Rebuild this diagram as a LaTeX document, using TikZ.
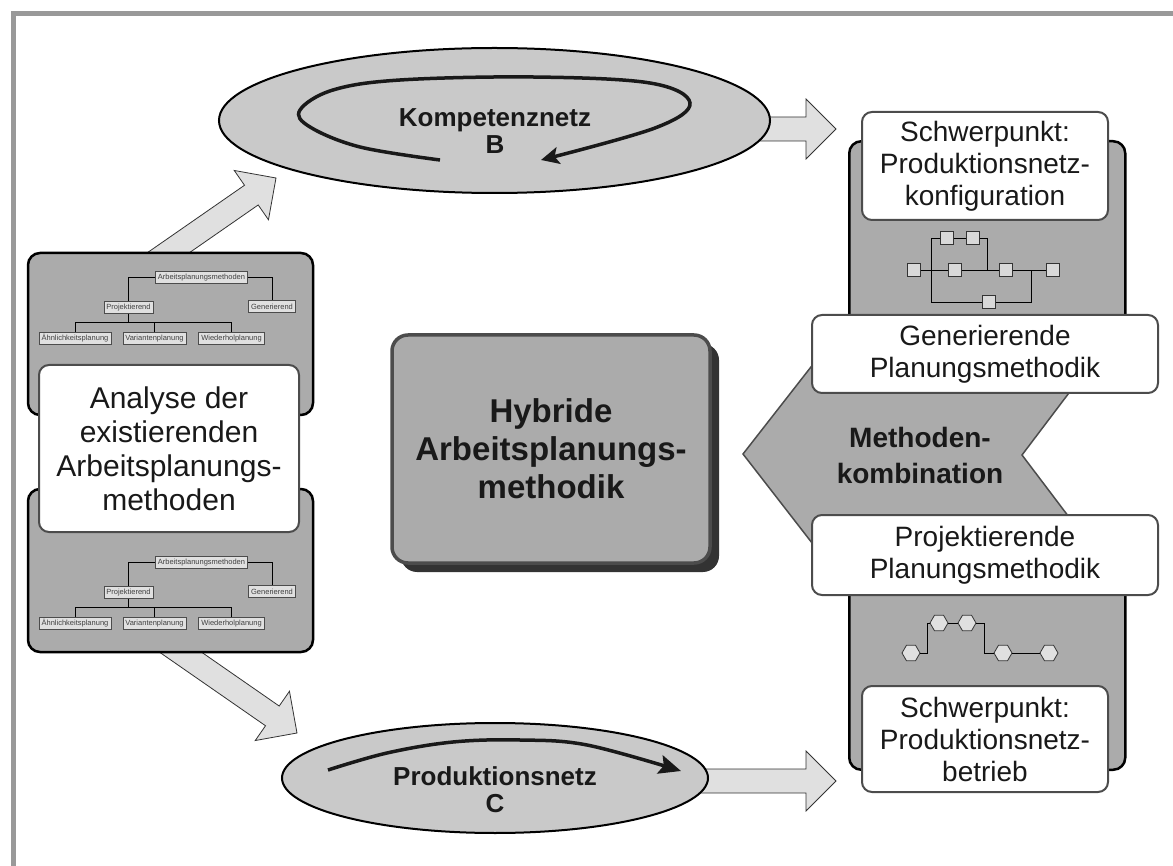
\documentclass[tikz,border=0pt]{standalone}
\usepackage{fontspec}
\setmainfont{Liberation Sans}
\usetikzlibrary{shapes.geometric,arrows.meta,calc,shadows}

\definecolor{framegray}{gray}{0.6}
\definecolor{boxgray}{gray}{0.67}
\definecolor{ovalgray}{gray}{0.79}
\definecolor{arrowgray}{gray}{0.88}
\definecolor{edgegray}{gray}{0.3}
\definecolor{inkgray}{gray}{0.1}

% wide block arrow from #1 (tail) to #2 (tip)
\newcommand\blockarrow[2]{%
  \path (#2) coordinate (ba-tip) ($(#2)!30pt!(#1)$) coordinate (ba-neck);
  \draw[bigarrow] ($(#1)!12pt!90:(ba-tip)$) -- ($(ba-neck)!12pt!90:(ba-tip)$)
    -- ($(ba-neck)!30pt!90:(ba-tip)$) -- (ba-tip)
    -- ($(ba-neck)!30pt!-90:(ba-tip)$) -- ($(ba-neck)!12pt!-90:(ba-tip)$)
    -- ($(#1)!12pt!-90:(ba-tip)$) -- cycle;}

% small classification tree of planning methods
\newcommand\methodtree[2]{%
  \begin{scope}[shift={(0,#1)}, name prefix=#2-]
    \node[treebox] (root) at (201.5,277.5) {Arbeitsplanungsmethoden};
    \node[treebox] (proj) at (128.5,307.5) {Projektierend};
    \node[treebox] (gen)  at (272,306.5)   {Generierend};
    \node[treebox] (c1)   at (75,338.5)    {Ähnlichkeitsplanung};
    \node[treebox] (c2)   at (154.5,338.5) {Variantenplanung};
    \node[treebox] (c3)   at (231.5,338.5) {Wiederholplanung};
    \draw[treeline] (root.west) -| (proj.north);
    \draw[treeline] (root.east) -| (gen.north);
    \draw[treeline] (proj.south) -- ++(0,9) coordinate (j);
    \draw[treeline] (c1.north) |- (j) -| (c3.north);
    \draw[treeline] (c2.north) -- (c2.north |- j);
  \end{scope}}

\begin{document}
\begin{tikzpicture}[x=1pt,y=-1pt,
  framebar/.style={draw=framegray, line width=5pt},
  bigarrow/.style={fill=arrowgray, draw=black!80, line width=0.8pt, line join=miter},
  oval/.style={ellipse, draw=black, line width=2pt, fill=ovalgray, inner sep=0pt},
  ovaltext/.style={font=\fontsize{26}{27}\selectfont\bfseries, text=inkgray, align=center},
  loopline/.style={line width=3.5pt, draw=black!90},
  panel/.style={rectangle, rounded corners=12pt, draw=black, line width=2.5pt, fill=boxgray, inner sep=0pt},
  card/.style={rectangle, rounded corners=10pt, draw=edgegray, line width=2pt, fill=white,
    align=center, text=inkgray, inner sep=0pt, font=\fontsize{28}{32}\selectfont},
  treebox/.style={draw=black!70, fill=arrowgray, font=\fontsize{7.5}{8}\selectfont, text=black!75,
    inner xsep=2.5pt, inner ysep=0pt, minimum height=12pt, line width=0.7pt},
  treeline/.style={draw=black, line width=0.8pt},
  netbox/.style={draw=black!80, fill=black!15, minimum size=13pt, inner sep=0pt, line width=0.8pt},
  nethex/.style={regular polygon, regular polygon sides=6, draw=black!80, fill=black!12,
    minimum size=18pt, inner sep=0pt, line width=0.8pt},
  netline/.style={draw=black, line width=0.9pt},
  chevron/.style={fill=boxgray, draw=edgegray, line width=1.5pt, line join=miter},
  hub/.style={rectangle, rounded corners=16pt, draw=black!70, line width=3.5pt, fill=boxgray,
    drop shadow={shadow xshift=9pt, shadow yshift=-9pt, fill=black!80, opacity=1},
    align=center, text=inkgray, font=\fontsize{33}{38}\selectfont\bfseries}
]
\useasboundingbox (0,0) rectangle (1173,866);

% page frame
\draw[framebar] (13.5,866) -- (13.5,13.5) -- (1173,13.5);

% block arrows
\coordinate (a1s) at (155,262);  \coordinate (a1t) at (276,178);
\coordinate (a2s) at (163,640);  \coordinate (a2t) at (297,733);
\coordinate (a3s) at (740,129);  \coordinate (a3t) at (836,129);
\coordinate (a4s) at (690,781);  \coordinate (a4t) at (836,781);
\blockarrow{a1s}{a1t}
\blockarrow{a2s}{a2t}
\blockarrow{a3s}{a3t}
\blockarrow{a4s}{a4t}

% competence network
\node[oval, minimum width=551pt, minimum height=145pt] (kompetenz) at (494.5,120.5) {};
\draw[loopline, -{Stealth[length=18pt,width=17pt,inset=4pt]}] plot[smooth, tension=0.6] coordinates
  {(440,160) (360,147) (310,127) (300,110) (333,90) (400,80) (533,77) (650,83) (690,103) (655,128) (541,160)};
\node[ovaltext] (kompetenzlabel) at (495,131) {Kompetenznetz\\B};

% production network
\node[oval, minimum width=426pt, minimum height=110pt] (produktion) at (495,778) {};
\draw[loopline, -{Stealth[length=22pt,width=19pt,inset=4pt]}] plot[smooth, tension=0.6] coordinates
  {(328,770) (387,753) (453,742) (520,740) (587,745) (681,771)};
\node[ovaltext] (produktionlabel) at (495,790) {Produktionsnetz\\C};

% analysis of existing methods
\node[panel, minimum width=285pt, minimum height=162pt] (treepanelA) at (170.5,334) {};
\node[panel, minimum width=285pt, minimum height=163pt] (treepanelB) at (170.5,570.5) {};
\methodtree{0}{ta}
\methodtree{285}{tb}
\node[card, minimum width=260pt, minimum height=167pt, font=\fontsize{30}{34}\selectfont] (analyse) at (169,448.5)
  {Analyse der\\existierenden\\Arbeitsplanungs-\\methoden};

% hybrid methodology
\node[hub, minimum width=318pt, minimum height=228pt] (hybrid) at (551,449)
  {Hybride\\Arbeitsplanungs-\\methodik};

% right column
\node[panel, minimum width=276pt, minimum height=220pt, anchor=north west] (colupper) at (848,140) {};
\node[panel, minimum width=276pt, minimum height=221pt, anchor=south west] (collower) at (848,771) {};

\draw[chevron] (743,454) -- (832,340) -- (1109,340) -- (1022,455) -- (1109,570) -- (833,570) -- cycle;
\node[font=\fontsize{28}{36}\selectfont\bfseries, text=inkgray, align=center] (kombi) at (920,455)
  {Methoden-\\kombination};

\node[card, minimum width=246pt, minimum height=108pt] (fokusA) at (985,166)
  {Schwerpunkt:\\Produktionsnetz-\\konfiguration};
\node[card, minimum width=346pt, minimum height=78pt] (generierend) at (985,354)
  {Generierende\\Planungsmethodik};
\node[card, minimum width=346pt, minimum height=80pt] (projektierend) at (985,555)
  {Projektierende\\Planungsmethodik};
\node[card, minimum width=246pt, minimum height=106pt] (fokusB) at (985,739)
  {Schwerpunkt:\\Produktionsnetz-\\betrieb};

% network configuration sketch
\node[netbox] (s1) at (947,238) {};
\node[netbox] (s2) at (973,238) {};
\node[netbox] (s3) at (914,270) {};
\node[netbox] (s4) at (955,270) {};
\node[netbox] (s5) at (1006,270) {};
\node[netbox] (s6) at (1053,270) {};
\node[netbox] (s7) at (989,302) {};
\coordinate (sbl) at (931,302);
\coordinate (str) at (987,270);
\coordinate (sbr) at (1031,270);
\draw[netline] (s3) -- (s4);
\draw[netline] (s4) -- (s5);
\draw[netline] (s5) -- (s6);
\draw[netline] (s1) -- (s2);
\draw[netline] (s1.west) -| (sbl) -- (s7.west);
\draw[netline] (s2.east) -| (str);
\draw[netline] (s7.east) -| (sbr);

% network operation sketch
\node[nethex] (h1) at (911,653) {};
\node[nethex] (h2) at (939,623) {};
\node[nethex] (h3) at (967,623) {};
\node[nethex] (h4) at (1003,653) {};
\node[nethex] (h5) at (1049,653) {};
\draw[netline] (h1.east) -- ++(7,0) |- (h2.west);
\draw[netline] (h2) -- (h3);
\draw[netline] (h3.east) -- ++(8,0) |- (h4.west);
\draw[netline] (h4) -- (h5);
\end{tikzpicture}
\end{document}
